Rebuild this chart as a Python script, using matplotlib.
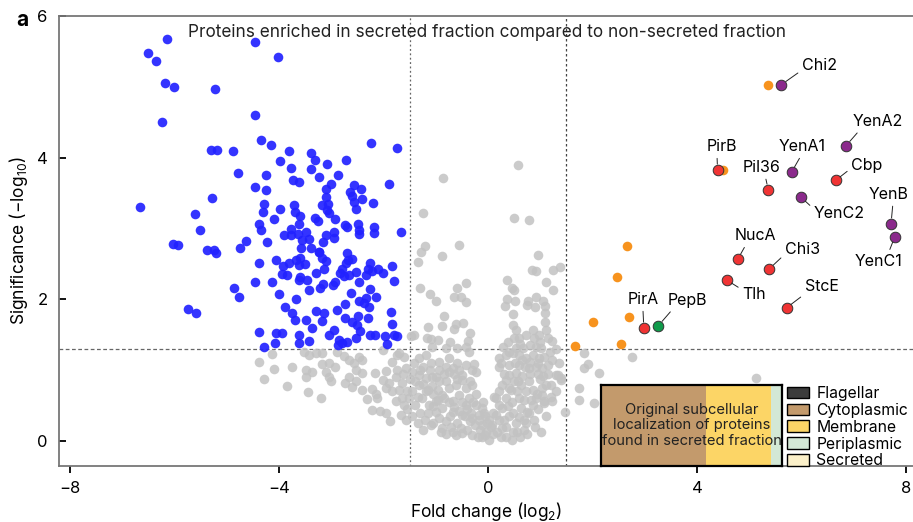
import matplotlib
matplotlib.use("Agg")
import matplotlib.pyplot as plt
from matplotlib.patches import Patch
import numpy as np

plt.rcParams['font.family'] = ['Inter', 'DejaVu Sans']
plt.rcParams['mathtext.default'] = 'regular'

# --- data (fold change log2, significance -log10) ---
blue = [(-6.14, 5.67), (-6.51, 5.48), (-6.35, 5.36), (-6.19, 5.05), (-6.01, 5.00), (-5.22, 4.97),
        (-6.23, 4.51), (-4.46, 5.63), (-4.02, 5.42), (-4.46, 4.60), (-4.34, 4.25), (-4.15, 4.18),
        (-5.31, 4.11), (-5.19, 4.11), (-4.88, 4.10), (-3.81, 4.09), (-3.39, 4.07), (-3.31, 3.97),
        (-2.71, 3.97), (-2.24, 4.21), (-1.74, 4.13), (-3.99, 3.95), (-3.78, 3.86), (-3.08, 3.91),
        (-3.39, 3.84), (-4.78, 3.79), (-4.25, 3.76), (-3.24, 3.73), (-2.87, 3.75), (-3.74, 3.68),
        (-3.61, 3.66), (-3.01, 3.63), (-1.90, 3.63), (-2.57, 3.61), (-2.44, 3.56), (-4.45, 3.59),
        (-4.25, 3.55), (-3.11, 3.56), (-2.64, 3.51), (-2.61, 3.46), (-2.56, 3.38), (-2.41, 3.41),
        (-6.66, 3.31), (-5.28, 3.43), (-5.60, 3.20), (-5.52, 2.98), (-6.03, 2.78), (-5.94, 2.77),
        (-5.37, 2.69), (-5.24, 2.70), (-5.21, 2.66), (-4.64, 2.83), (-4.74, 2.73), (-4.28, 3.35),
        (-4.30, 3.24), (-3.98, 3.28), (-4.09, 3.14), (-4.38, 3.07), (-4.35, 2.98), (-4.23, 2.81),
        (-3.71, 3.33), (-3.70, 3.23), (-3.60, 3.18), (-3.62, 3.06), (-3.78, 2.99), (-3.90, 2.91),
        (-3.78, 2.91), (-3.63, 2.92), (-3.49, 2.95), (-3.56, 2.84), (-3.43, 2.85), (-3.58, 2.73),
        (-3.32, 3.15), (-3.26, 3.10), (-3.17, 3.33), (-3.06, 3.34), (-3.11, 3.44), (-3.09, 3.26),
        (-3.05, 3.22), (-2.92, 3.13), (-2.94, 2.95), (-2.94, 2.87), (-3.10, 2.91), (-3.16, 2.81),
        (-3.38, 2.72), (-3.24, 2.67), (-2.74, 3.05), (-2.70, 3.02), (-2.48, 3.07), (-2.47, 2.98),
        (-2.47, 2.92), (-2.20, 3.36), (-2.53, 3.28), (-2.18, 3.02), (-2.18, 2.93), (-1.67, 2.95),
        (-4.39, 2.52), (-4.06, 2.56), (-3.93, 2.47), (-3.81, 2.51), (-3.68, 2.56), (-3.59, 2.58),
        (-3.62, 2.48), (-3.51, 2.50), (-3.95, 2.36), (-3.84, 2.35), (-4.46, 2.25), (-4.13, 2.25),
        (-3.59, 2.32), (-3.61, 2.28), (-3.47, 2.28), (-3.30, 2.37), (-3.23, 2.67), (-3.17, 2.58),
        (-3.11, 2.54), (-3.13, 2.43), (-2.70, 2.65), (-2.68, 2.56), (-2.60, 2.57), (-2.71, 2.52),
        (-2.80, 2.43), (-2.84, 2.37), (-2.75, 2.33), (-2.67, 2.34), (-2.53, 2.39), (-2.97, 2.20),
        (-2.92, 2.25), (-3.16, 2.22), (-3.21, 2.16), (-3.43, 2.13), (-3.68, 2.01), (-4.00, 2.07),
        (-2.47, 2.24), (-2.25, 2.51), (-2.29, 2.43), (-2.22, 2.40), (-2.10, 2.43), (-2.01, 2.37),
        (-2.34, 2.35), (-1.84, 2.47), (-1.80, 2.26), (-4.87, 2.16), (-4.77, 2.04), (-2.62, 2.09),
        (-2.26, 2.15), (-2.14, 2.04), (-2.47, 1.97), (-2.34, 2.02), (-2.27, 1.89), (-2.38, 1.95),
        (-2.73, 1.94), (-2.90, 1.85), (-3.88, 1.89), (-3.76, 1.81), (-3.69, 1.71), (-3.49, 1.71),
        (-3.37, 1.60), (-3.30, 1.83), (-3.14, 1.81), (-3.17, 1.70), (-2.74, 1.74), (-2.48, 1.76),
        (-2.60, 1.68), (-2.50, 1.64), (-2.30, 1.73), (-1.86, 1.82), (-1.84, 1.65), (-5.75, 1.86),
        (-5.58, 1.80), (-4.39, 1.54), (-4.05, 1.52), (-3.95, 1.53), (-3.62, 1.50), (-3.61, 1.38),
        (-3.42, 1.41), (-3.05, 1.49), (-2.94, 1.56), (-2.85, 1.42), (-2.79, 1.38), (-2.70, 1.40),
        (-2.52, 1.45), (-2.45, 1.55), (-2.26, 1.49), (-2.17, 1.50), (-1.97, 1.48), (-1.80, 1.50),
        (-1.75, 1.48), (-1.94, 1.37), (-4.29, 1.33), (-4.07, 1.39), (-2.87, 1.35)]

grey = [(0.58, 3.90), (-0.86, 3.71), (-1.24, 3.22), (0.50, 3.15), (0.79, 3.12), (-1.21, 2.75),
        (-1.28, 2.67), (-1.35, 2.53), (-0.88, 2.61), (-0.56, 2.77), (0.95, 2.62), (0.84, 2.42),
        (0.91, 2.40), (1.25, 2.41), (1.38, 2.46), (-1.31, 2.16), (-1.11, 2.07), (-0.99, 1.97),
        (-0.59, 2.16), (-0.43, 2.23), (-0.66, 2.04), (-0.52, 2.04), (-0.42, 1.96), (0.36, 2.27),
        (0.45, 2.16), (0.50, 2.13), (1.10, 2.24), (1.24, 2.13), (0.36, 2.01), (0.52, 1.97),
        (0.33, 1.90), (0.48, 1.79), (0.76, 1.97), (0.75, 1.92), (0.89, 1.89), (0.92, 2.03),
        (1.06, 1.98), (1.09, 1.91), (1.08, 1.81), (-0.84, 1.77), (-1.47, 1.48), (-1.15, 1.61),
        (-0.89, 1.62), (-0.62, 1.65), (-0.65, 1.58), (-0.48, 1.66), (-0.34, 1.52), (-0.73, 1.40),
        (-1.09, 1.44), (-0.96, 1.43), (-0.38, 1.41), (-1.42, 1.49), (-1.16, 1.45), (-1.07, 1.33),
        (-0.81, 1.31), (-0.59, 1.31), (-0.43, 1.32), (-0.36, 1.26), (0.47, 1.64), (0.53, 1.57),
        (0.50, 1.45), (0.59, 1.45), (0.72, 1.50), (0.85, 1.57), (0.88, 1.45), (0.98, 1.50),
        (1.11, 1.56), (1.14, 1.45), (1.22, 1.41), (0.80, 1.36), (0.67, 1.31), (0.53, 1.31),
        (0.40, 1.26), (0.91, 1.33), (1.01, 1.31), (1.09, 1.68), (-1.61, 1.19), (-1.70, 1.24),
        (-1.19, 1.22), (-1.32, 1.17), (-1.10, 1.10), (-0.94, 1.12), (-0.75, 1.17), (-0.59, 1.10),
        (-0.68, 1.03), (-0.43, 1.07), (-0.27, 1.08), (-0.24, 0.98), (-0.49, 0.93), (-0.75, 0.98),
        (-0.94, 1.00), (0.21, 1.17), (0.34, 1.22), (0.47, 1.24), (0.59, 1.22), (0.72, 1.17),
        (0.85, 1.22), (0.98, 1.17), (1.07, 1.19), (1.23, 1.15), (1.36, 1.10), (0.21, 1.05),
        (0.40, 1.07), (0.59, 1.07), (0.79, 1.03), (0.91, 1.05), (1.04, 1.03), (1.14, 1.07),
        (1.30, 0.93), (1.39, 0.89),
        # valley
        (-1.58, 1.03), (-1.45, 0.98), (-1.32, 0.93), (-1.19, 0.89), (-1.07, 0.91), (-0.94, 0.84),
        (-1.07, 0.77), (-1.32, 0.79), (-1.19, 0.70), (-1.45, 0.70), (-1.51, 0.60), (-1.39, 0.51),
        (-1.26, 0.60), (-1.13, 0.51), (-1.00, 0.56), (-0.88, 0.65), (-0.75, 0.75), (-0.81, 0.84),
        (-0.62, 0.79), (-0.49, 0.86), (-0.43, 0.75), (-0.30, 0.79), (-0.24, 0.67), (-0.36, 0.60),
        (-0.56, 0.65), (-0.68, 0.56), (-0.43, 0.51), (-0.24, 0.51), (-0.11, 0.46), (-0.17, 0.37),
        (-0.30, 0.32), (-0.49, 0.37), (-0.68, 0.41), (-0.88, 0.46), (-1.00, 0.41), (-0.94, 0.32),
        (-1.10, 0.23), (-0.88, 0.18), (-0.68, 0.13), (-0.49, 0.11), (-0.30, 0.08), (-0.11, 0.06),
        (0.02, 0.01), (-0.04, 0.13), (0.08, 0.23), (0.02, 0.30), (0.15, 0.37), (0.21, 0.51),
        (0.15, 0.60), (0.21, 0.70), (0.27, 0.79), (0.34, 0.86), (0.40, 0.93), (0.53, 0.96),
        (0.50, 0.84), (0.43, 0.72), (0.34, 0.60), (0.27, 0.46), (0.21, 0.30), (0.27, 0.18),
        (0.34, 0.06), (0.47, 0.13), (0.53, 0.25), (0.59, 0.34), (0.63, 0.46), (0.69, 0.58),
        (0.72, 0.70), (0.63, 0.79), (0.79, 0.84), (0.85, 0.72), (0.94, 0.67), (1.04, 0.65),
        (1.07, 0.53), (0.91, 0.60), (0.85, 0.51), (0.75, 0.41), (0.69, 0.30), (0.72, 0.25),
        (0.88, 0.30), (1.01, 0.13), (1.11, 0.79), (1.20, 0.79), (1.30, 0.70), (1.23, 0.56),
        (1.48, 0.41), (1.33, 0.93), (1.39, 0.86), (1.04, 0.75), (1.07, 0.56),
        (-1.40, 0.85), (-1.25, 0.80), (-1.15, 0.72), (-1.05, 0.66), (-0.95, 0.72), (-0.85, 0.60),
        (-0.75, 0.55), (-0.65, 0.48), (-0.55, 0.42), (-0.45, 0.35), (-0.35, 0.28), (-0.25, 0.22),
        (-0.15, 0.15), (-0.05, 0.08), (-1.30, 0.40), (-1.20, 0.30), (-1.05, 0.25), (-0.80, 0.28),
        (-0.70, 0.20), (-0.60, 0.25), (-0.40, 0.15), (-0.20, 0.05), (-1.50, 0.88), (-1.55, 0.70),
        (-1.35, 0.62), (-1.62, 0.95), (-1.25, 1.05), (-1.00, 0.90), (-0.85, 0.95), (-0.60, 0.88),
        (-0.35, 0.85), (-0.10, 0.55), (-0.05, 0.35), (0.05, 0.20), (0.10, 0.40), (0.12, 0.62),
        (0.25, 1.10), (0.30, 0.95), (0.40, 0.75), (0.45, 0.55), (0.40, 0.35), (0.35, 0.20),
        (0.55, 0.12), (0.60, 0.60), (0.65, 0.92), (0.70, 1.05), (0.80, 0.95), (0.78, 0.40),
        (0.90, 0.20), (0.95, 0.45), (1.00, 0.88), (1.15, 0.95), (1.20, 0.62), (1.10, 0.35),
        (0.25, 0.05), (0.45, 0.02), (0.68, 0.15),
        (-1.55, 0.45), (-1.45, 0.35), (-1.35, 0.25), (-1.25, 0.15), (-1.15, 0.40), (-1.05, 0.50),
        (-0.95, 0.58), (-0.90, 0.12), (-0.80, 0.10), (-0.72, 0.35), (-0.62, 0.08), (-0.52, 0.18),
        (-0.50, 0.55), (-0.40, 0.45), (-0.33, 0.40), (-0.28, 0.55), (-0.18, 0.30), (-0.12, 0.22),
        (-0.08, 0.40), (-0.02, 0.25), (-1.65, 0.60), (-1.42, 1.10), (-1.30, 1.00), (-1.12, 1.00),
        (-0.80, 1.05), (-0.65, 0.95), (-0.55, 1.00), (-0.30, 1.00),
        (0.10, 0.10), (0.18, 0.12), (0.30, 0.30), (0.38, 0.50), (0.48, 0.40), (0.55, 0.70),
        (0.62, 0.05), (0.75, 0.10), (0.82, 0.58), (0.95, 0.95), (1.05, 0.92), (0.58, 0.85),
        (0.52, 1.10), (0.65, 1.15), (0.80, 1.12), (0.95, 1.10), (1.18, 1.25), (1.30, 1.30),
        (0.28, 1.32), (0.38, 1.40), (0.62, 1.37), (1.00, 1.40),
        # right of threshold
        (1.74, 0.75), (1.74, 0.58), (1.84, 1.24), (1.92, 1.08), (1.84, 1.03), (2.03, 0.53),
        (2.13, 0.96), (2.75, 1.18), (5.13, 0.89),
        # left, below threshold
        (-4.13, 1.23), (-4.39, 1.11), (-4.29, 0.87), (-4.10, 1.01), (-3.84, 0.78), (-3.75, 1.05),
        (-3.49, 1.00), (-3.49, 0.90), (-3.37, 0.97), (-3.44, 0.69), (-3.19, 0.61), (-3.52, 1.26),
        (-3.43, 1.22), (-3.30, 1.24), (-3.17, 1.24), (-3.17, 1.08), (-3.05, 1.10), (-2.93, 1.05),
        (-3.11, 0.98), (-3.05, 0.91), (-3.01, 0.85), (-2.89, 1.26), (-2.76, 1.20), (-2.66, 1.15),
        (-2.57, 1.10), (-2.47, 1.19), (-2.41, 1.15), (-2.53, 1.00), (-2.41, 0.96), (-2.66, 0.91),
        (-2.53, 0.84), (-2.73, 0.82), (-2.60, 0.76), (-2.41, 0.72), (-2.22, 0.73), (-2.12, 0.60),
        (-2.31, 0.59), (-2.15, 0.67), (-2.17, 0.96), (-2.02, 0.86), (-1.90, 0.82), (-1.96, 0.75),
        (-1.83, 0.70), (-1.70, 0.72), (-1.64, 0.82), (-1.77, 0.91), (-1.96, 0.99), (-1.83, 1.12),
        (-1.74, 1.22), (-1.74, 1.00), (-1.77, 0.56), (-1.61, 0.51), (-2.22, 0.44), (-2.06, 0.43),
        (-1.96, 0.40), (-1.88, 0.28), (-1.67, 0.37), (-1.58, 0.30), (-2.02, 1.28)]

orange = [(5.36, 5.02), (4.49, 3.83), (2.66, 2.76), (2.46, 2.31), (2.00, 1.68), (2.70, 1.75),
          (1.66, 1.34), (2.55, 1.37)]

named_labels = ['Chi2', 'YenA2', 'PirB', 'YenA1', 'Pil36', 'Cbp', 'YenC2', 'YenB', 'YenC1',
                'NucA', 'Chi3', 'Tlh', 'StcE', 'PirA', 'PepB']
named_fc = [5.61, 6.85, 4.39, 5.81, 5.36, 6.65, 5.99, 7.71, 7.78, 4.78, 5.38, 4.57, 5.71, 2.98, 3.26]
named_sig = [5.03, 4.17, 3.83, 3.80, 3.55, 3.68, 3.44, 3.07, 2.88, 2.57, 2.43, 2.27, 1.88, 1.60, 1.63]
named_group = ['toxin', 'toxin', 'red', 'toxin', 'red', 'red', 'toxin', 'toxin', 'toxin',
               'red', 'red', 'red', 'red', 'red', 'green']

loc_names = ['Flagellar', 'Cytoplasmic', 'Membrane', 'Periplasmic', 'Secreted']
loc_share = [0.0, 0.58, 0.36, 0.06, 0.0]

# --- styles ---
group_colors = {'toxin': '#8b2a8c', 'red': '#f03434', 'green': '#0f9a4a'}
loc_colors = ['#3b3b3b', '#c39a6c', '#fcd566', '#d3e8d6', '#fbf0c9']
# label offsets in pixels (dx, dy) and where the leader line leaves the text
label_pos = {'Chi2': (38, 19, (0.0, 0.2)), 'YenA2': (32, 24, (0.15, 0.0)),
             'PirB': (4, 23, (0.35, 0.0)), 'YenA1': (10, 25, (0.5, 0.0)),
             'Pil36': (-7, 22, (0.6, 0.0)), 'Cbp': (31, 15, (0.0, 0.3)),
             'YenC2': (38, -16, (0.0, 0.8)), 'YenB': (-2, 29, (0.6, 0.0)),
             'YenC1': (-16, -24, (0.7, 1.0)), 'NucA': (17, 23, (0.3, 0.0)),
             'Chi3': (33, 19, (0.0, 0.2)), 'Tlh': (27, -14, (0.0, 0.8)),
             'StcE': (35, 21, (0.05, 0.1)), 'PirA': (-1, 28, (0.5, 0.0)),
             'PepB': (29, 25, (0.15, 0.0))}

fig = plt.figure(figsize=(9.13, 5.22), dpi=100)
ax = fig.add_axes([0.0646, 0.1073, 0.9354, 0.862])

grey = np.array(grey)
blue = np.array(blue)
orange = np.array(orange)
ax.scatter(grey[:, 0], grey[:, 1], s=48, color='#c2c2c2', alpha=0.85, lw=0, zorder=2)
ax.scatter(blue[:, 0], blue[:, 1], s=48, color='#2222ff', alpha=0.92, lw=0, zorder=3)
ax.scatter(orange[:, 0], orange[:, 1], s=48, color='#f7931e', lw=0, zorder=3)

for name, x, y, g in zip(named_labels, named_fc, named_sig, named_group):
    ax.scatter(x, y, s=58, color=group_colors[g], edgecolor='#333333', lw=0.7, zorder=5)
    dx, dy, rp = label_pos[name]
    ax.annotate(name, (x, y), xytext=(dx, dy), textcoords='offset pixels',
                ha='center', va='center', fontsize=11.5, zorder=6,
                arrowprops=dict(arrowstyle='-', lw=0.7, color='#222222',
                                relpos=rp, shrinkA=1, shrinkB=4))

ax.axvline(-1.5, color='#666666', lw=0.9, ls=(0, (1.5, 2)), zorder=1)
ax.axvline(1.5, color='#444444', lw=0.9, ls=(0, (2, 2)), zorder=1)
ax.axhline(-np.log10(0.05), color='#666666', lw=0.9, ls=(0, (3, 2)), zorder=1)

ax.set_xlim(-8.21, 8.13)
ax.set_ylim(-0.353, 6)
ax.set_xticks([-8, -4, 0, 4, 8])
ax.set_yticks([0, 2, 4, 6])
ax.tick_params(axis='y', direction='in', length=5, width=1.3, labelsize=12, pad=8)
ax.tick_params(axis='x', direction='out', length=5, width=1.3, labelsize=12, pad=6)
for s in ['left', 'bottom', 'top']:
    ax.spines[s].set_color('#777777')
    ax.spines[s].set_linewidth(1.3)
ax.spines['right'].set_visible(False)
ax.set_xlabel('Fold change (log$_2$)', fontsize=12.5, labelpad=3)
ax.set_ylabel('Significance (\u2212log$_{10}$)', fontsize=12.5, labelpad=5)

ax.text(0.501, 0.964, 'Proteins enriched in secreted fraction compared to non-secreted fraction',
        transform=ax.transAxes, ha='center', va='center', fontsize=12.4, color='#222222')
fig.text(0.018, 0.962, 'a', fontsize=15, fontweight='bold', va='center')

# stacked bar of localisation shares
axb = ax.inset_axes([0.6347, 0.0, 0.212, 0.18])
left = 0
for share, c in zip(loc_share, loc_colors):
    axb.barh(0, share, left=left, height=1, color=c, lw=0)
    left += share
axb.set_xlim(0, 1)
axb.set_ylim(-0.5, 0.5)
axb.set_xticks([])
axb.set_yticks([])
for s in axb.spines.values():
    s.set_linewidth(1.6)
    s.set_color('black')
axb.text(0.5, 0.5, 'Original subcellular\nlocalization of proteins\nfound in secreted fraction',
         transform=axb.transAxes, ha='center', va='center', fontsize=10.6,
         color='#222222', linespacing=1.15)

handles = [Patch(facecolor=c, edgecolor='black', lw=1) for c in loc_colors]
ax.legend(handles, loc_names, loc='upper left', bbox_to_anchor=(0.853, 0.178),
          frameon=False, fontsize=11.3, handlelength=1.4, handleheight=0.75,
          labelspacing=0.12, handletextpad=0.45, borderpad=0, borderaxespad=0)

fig.savefig('out.png', dpi=100)
